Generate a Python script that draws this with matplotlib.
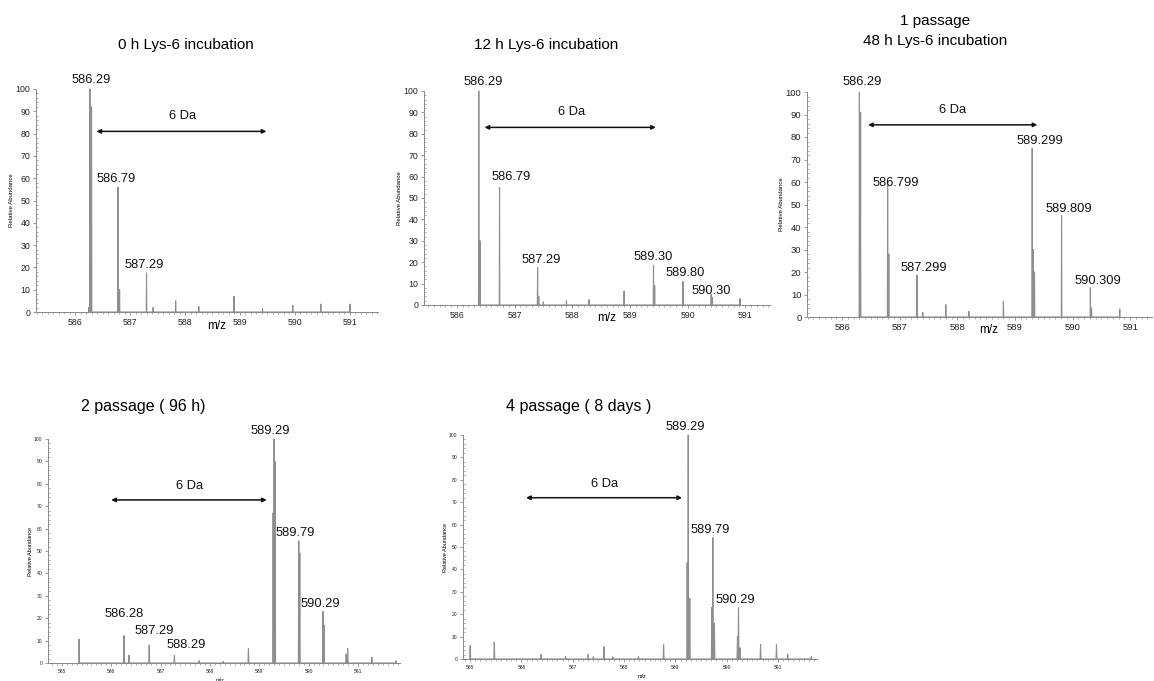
import matplotlib
matplotlib.use("Agg")
import matplotlib.pyplot as plt
from matplotlib.ticker import MultipleLocator

# ----------------------------------------------------------------------
# Data: peak positions (m/z) and relative abundance
# ----------------------------------------------------------------------
mz_0h = [586.25, 586.27, 586.30, 586.78, 586.81, 587.30, 587.42, 587.83,
         588.25, 588.89, 589.41, 589.96, 590.47, 591.00]
ab_0h = [2, 100, 92, 56, 10, 17.5, 2, 5, 2.5, 7, 1.5, 3, 3.5, 3.5]

mz_12h = [586.38, 586.40, 586.74, 587.40, 587.42, 587.50, 587.90, 588.29,
          588.90, 589.41, 589.43, 589.92, 590.41, 590.43, 590.91]
ab_12h = [100, 30, 55, 17.5, 4, 1.5, 2, 2.5, 6.5, 18.5, 9, 11, 5, 3.5, 3]

mz_48h = [586.30, 586.32, 586.79, 586.81, 587.30, 587.40, 587.80, 588.20,
          588.80, 589.30, 589.32, 589.34, 589.81, 590.31, 590.33, 590.82]
ab_48h = [100, 91, 60.5, 28, 18.6, 2, 5.5, 2.5, 7, 75, 30, 20, 45, 13, 4, 3.5]

mz_96h = [585.35, 586.26, 586.36, 586.77, 587.28, 587.78, 588.27, 588.78,
          589.28, 589.30, 589.32, 589.80, 589.82, 590.29, 590.31, 590.76,
          590.79, 591.28, 591.77]
ab_96h = [10.7, 12.2, 3.5, 8, 3.3, 1, 0.7, 6.5, 67, 100, 90, 54.5, 49, 23,
          17, 4, 6.5, 2.5, 1]

mz_8d = [585.00, 585.47, 586.38, 586.86, 587.30, 587.40, 587.61, 587.78,
         588.28, 588.77, 589.23, 589.25, 589.28, 589.71, 589.73, 589.76,
         590.21, 590.23, 590.26, 590.66, 590.97, 591.19, 591.65]
ab_8d = [6, 7.5, 2, 1, 2, 1, 5.5, 1, 1, 6.5, 43, 100, 27, 23, 54.2, 16,
         10, 23, 5, 6.5, 6.5, 2, 1]

# peak labels: (text, x, y)
labels_0h = [("586.29", 586.30, 101.5), ("586.79", 586.74, 57),
             ("587.29", 587.26, 18.5)]
labels_12h = [("586.29", 586.45, 101.5), ("586.79", 586.95, 57),
              ("587.29", 587.46, 18), ("589.30", 589.41, 19.7),
              ("589.80", 589.96, 12), ("590.30", 590.42, 3.8)]
labels_48h = [("586.29", 586.35, 101.8), ("586.799", 586.93, 57),
              ("587.299", 587.42, 19), ("589.299", 589.44, 75.5),
              ("589.809", 589.93, 45.3), ("590.309", 590.44, 13.4)]
labels_96h = [("589.29", 589.23, 101), ("589.79", 589.73, 55.4),
              ("590.29", 590.24, 23.8), ("586.28", 586.27, 19.3),
              ("587.29", 586.87, 11.6), ("588.29", 587.51, 5.2)]
labels_8d = [("589.29", 589.19, 101), ("589.79", 589.67, 55),
             ("590.29", 590.16, 23.5)]

# arrow spans (x_start, x_end, y), "6 Da" text position (x, y)
arrow_0h, da_0h = (586.39, 589.48, 81), (587.96, 85)
arrow_12h, da_12h = (586.48, 589.45, 83), (587.99, 87.5)
arrow_48h, da_48h = (586.45, 589.39, 85.4), (587.92, 89.5)
arrow_96h, da_96h = (586.00, 589.15, 72.8), (587.58, 76.5)
arrow_8d, da_8d = (586.09, 589.13, 72), (587.61, 75.5)

titles = ["0 h Lys-6 incubation", "12 h Lys-6 incubation",
          "1 passage\n48 h Lys-6 incubation",
          "2 passage ( 96 h)", "4 passage ( 8 days )"]

# ----------------------------------------------------------------------
# Figure
# ----------------------------------------------------------------------
W, H = 1154, 681
fig = plt.figure(figsize=(W / 100, H / 100), dpi=100)
fig.patch.set_facecolor("white")

LABEL_FONT = ["Liberation Sans", "DejaVu Sans"]
TITLE_FONT = ["Liberation Sans Narrow", "Liberation Sans", "DejaVu Sans"]
PEAK_COLOR = "#8e8e8e"
AXIS_COLOR = "#8a8a8a"


def px_axes(left, right, top, bottom):
    return fig.add_axes([left / W, 1 - bottom / H,
                         (right - left) / W, (bottom - top) / H])


def peak_profile(mz, ab, w):
    # each stick drawn as a narrow triangle on the baseline
    xs, ys = [], []
    for m, a in sorted(zip(mz, ab)):
        xs += [m - w, m, m + w]
        ys += [0, a, 0]
    return xs, ys


def draw_spectrum(ax, mz, ab, xlim, labels, arrow, da, tick_fs, ylab_fs,
                  peak_fs, small=False):
    xs, ys = peak_profile(mz, ab, 0.005 if not small else 0.009)
    ax.plot([xlim[0], xlim[1]], [0, 0], color=PEAK_COLOR, lw=0.6,
            clip_on=False)
    ax.plot(xs, ys, color=PEAK_COLOR, lw=0.8, clip_on=False)
    ax.set_xlim(*xlim)
    ax.set_ylim(0, 100)
    for s in ["top", "right"]:
        ax.spines[s].set_visible(False)
    for s in ["left", "bottom"]:
        ax.spines[s].set_color(AXIS_COLOR)
        ax.spines[s].set_linewidth(0.7)
    ax.xaxis.set_major_locator(MultipleLocator(1))
    ax.xaxis.set_minor_locator(MultipleLocator(0.1))
    ax.yaxis.set_major_locator(MultipleLocator(10))
    ax.yaxis.set_minor_locator(MultipleLocator(2))
    ax.tick_params(axis="both", which="major", labelsize=tick_fs,
                   color=AXIS_COLOR, length=2.5, width=0.6, pad=1.5,
                   labelcolor="#222222")
    ax.tick_params(axis="x", which="minor", color=AXIS_COLOR, length=1.5,
                   width=0.5, direction="out")
    ax.tick_params(axis="y", which="minor", color=AXIS_COLOR, length=1.5,
                   width=0.5, direction="in")
    for lab in ax.get_xticklabels() + ax.get_yticklabels():
        lab.set_family(LABEL_FONT)
    ax.set_ylabel("Relative Abundance", fontsize=ylab_fs,
                  family=LABEL_FONT, labelpad=1)
    for txt, x, y in labels:
        ax.text(x, y, txt, ha="center", va="bottom", fontsize=peak_fs,
                family=LABEL_FONT, color="#111111", clip_on=False)
    ax.annotate("", xy=(arrow[0], arrow[2]), xytext=(arrow[1], arrow[2]),
                arrowprops=dict(arrowstyle="<|-|>", color="#111111",
                                lw=1.1, mutation_scale=6,
                                shrinkA=0, shrinkB=0))
    ax.text(da[0], da[1], "6 Da", ha="center", va="bottom",
            fontsize=peak_fs, family=LABEL_FONT, color="#111111")


# Panel 1: 0 h
ax1 = px_axes(36, 378, 89, 312)
draw_spectrum(ax1, mz_0h, ab_0h, (585.29, 591.51), labels_0h, arrow_0h,
              da_0h, 6.3, 4.3, 9.3)
ax1.text(588.58, -3.5, "m/z", ha="center", va="top", fontsize=8.5,
         family=LABEL_FONT)

# Panel 2: 12 h
ax2 = px_axes(424, 770, 91, 305)
draw_spectrum(ax2, mz_12h, ab_12h, (585.43, 591.43), labels_12h,
              arrow_12h, da_12h, 6.3, 4.3, 9.3)
ax2.text(588.6, -3.5, "m/z", ha="center", va="top", fontsize=8.5,
         family=LABEL_FONT)

# Panel 3: 48 h
ax3 = px_axes(807, 1152, 92, 317)
draw_spectrum(ax3, mz_48h, ab_48h, (585.39, 591.38), labels_48h,
              arrow_48h, da_48h, 6.8, 4.3, 9.3)
ax3.text(588.54, -3.0, "m/z", ha="center", va="top", fontsize=8.5,
         family=LABEL_FONT)

# Panel 4: 96 h
ax4 = px_axes(48, 400, 439, 663)
draw_spectrum(ax4, mz_96h, ab_96h, (584.72, 591.85), labels_96h,
              arrow_96h, da_96h, 3.6, 4.0, 9.3, small=True)
ax4.text(588.2, -6.5, "m/z", ha="center", va="top", fontsize=4,
         family=LABEL_FONT)

# Panel 5: 8 days
ax5 = px_axes(463, 817, 435, 659)
draw_spectrum(ax5, mz_8d, ab_8d, (584.86, 591.76), labels_8d,
              arrow_8d, da_8d, 3.6, 4.0, 9.3, small=True)
ax5.text(588.35, -6.5, "m/z", ha="center", va="top", fontsize=4,
         family=LABEL_FONT)

# Titles
fig.text(186 / W, 1 - 45 / H, titles[0], ha="center", va="center",
         fontsize=11, family=TITLE_FONT)
fig.text(546 / W, 1 - 45 / H, titles[1], ha="center", va="center",
         fontsize=11, family=TITLE_FONT)
fig.text(935 / W, 1 - 31 / H, titles[2], ha="center", va="center",
         fontsize=11, family=TITLE_FONT, linespacing=1.5)
fig.text(143 / W, 1 - 407 / H, titles[3], ha="center", va="center",
         fontsize=11.5, family=LABEL_FONT)
fig.text(579 / W, 1 - 407 / H, titles[4], ha="center", va="center",
         fontsize=11.5, family=LABEL_FONT)

plt.savefig("out.png", dpi=100, facecolor="white")
